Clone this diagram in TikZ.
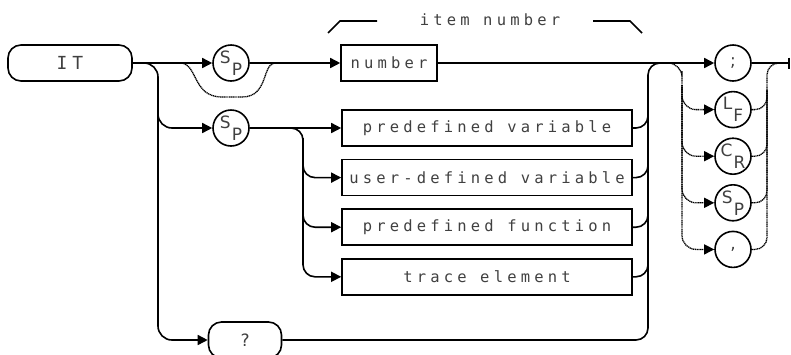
\documentclass[tikz,border=0pt]{standalone}
\usepackage{fontspec}
\newfontfamily\hpfont[LetterSpace=27]{DejaVu Sans Mono}
\newfontfamily\chrfont{DejaVu Sans}
\usetikzlibrary{arrows.meta, positioning}

% two small letters in one circle (S over P and so on)
\newcommand\twochr[2]{\raisebox{5pt}{#1}\kern1pt\raisebox{-7pt}{#2}}

\begin{document}
\begin{tikzpicture}[
        x=1pt, y=-1pt,
        node distance=12pt,
        % This defines the style of the rectangular boxes
        box/.style={rectangle, draw=black, line width=1.6pt, minimum width=290pt, minimum height=36pt, inner sep=0pt, font=\hpfont\fontsize{15.5}{15.5}\selectfont, text=black!75},
        % This defines the style of the rounded terminals
        term/.style={box, rounded corners=13pt},
        % This defines the style of the circled characters
        chr/.style={circle, draw=black, line width=1.6pt, minimum size=36pt, inner sep=0pt, font=\chrfont\fontsize{17}{17}\selectfont, text=black!75},
        % This defines the style of the arrows
        arrow/.style={-{Triangle[length=10pt, width=10pt]}, line width=1.6pt},
        % This defines the style of the optional (dotted) paths
        optline/.style={dash pattern=on 1.2pt off 0.6pt, line width=1.3pt},
        line/.style={line width=1.6pt}
    ]
    \useasboundingbox (0,0) rectangle (791,354);

    % --- THE NODES ---
    \node (it) [term, minimum width=124pt, font=\hpfont\fontsize{18}{18}\selectfont] at (70,63) {IT};
    \node (sp1) [chr] at (231,63) {\twochr{S}{P}};
    \node (num) [box, minimum width=96pt] at (389,63) {number};
    \node (lbl) [font=\hpfont\fontsize{15.5}{15.5}\selectfont, text=black!75] at (490,20) {item number};

    \node (sp2) [chr] at (231,128) {\twochr{S}{P}};
    \node (pvar) [box] at (487,128) {predefined variable};
    \node (uvar) [box, below=of pvar] {user-defined variable};
    \node (pfun) [box, below=of uvar] {predefined function};
    \node (trace) [box, below=of pfun] {trace element};
    \node (qm) [term, minimum width=73pt, font=\hpfont\fontsize{17}{17}\selectfont] at (245,340) {?};

    \node (semi) [chr] at (733,63) {;};
    \node (lf) [chr, below=9pt of semi] {\twochr{L}{F}};
    \node (cr) [chr, below=9pt of lf] {\twochr{C}{R}};
    \node (sp3) [chr, below=9pt of cr] {\twochr{S}{P}};
    \node (comma) [chr, below=9pt of sp3] {,};

    % --- THE JUNCTIONS ---
    \coordinate (by1) at (180,63);
    \coordinate (by2) at (274,63);
    \coordinate (br1) at (140,63);
    \coordinate (v1) at (158,100);
    \coordinate (br2) at (288,128);
    \coordinate (v2) at (303,150);
    \coordinate (v3) at (648,100);
    \coordinate (jn) at (665,63);
    \coordinate (tv) at (682,85);
    \coordinate (tr) at (767,90);
    \coordinate (rj) at (782,63);
    \coordinate (out) at (790,63);

    % --- THE MAIN LINE ---
    \draw [arrow] (it) -- (sp1);
    \draw [arrow] (sp1) -- (num);
    \draw [arrow] (num) -- (semi);
    \draw [line, -{Bar[width=11pt]}] (semi) -- (out);
    \draw [optline] (by1) .. controls (198,63) and (192,97) .. (222,97) -- (242,97) .. controls (268,97) and (262,66) .. (by2);

    % --- THE LOWER BRANCHES ---
    \draw [arrow, rounded corners=14pt] (br1) -| (v1) |- (qm);
    \draw [arrow, rounded corners=14pt] (v1) |- (sp2);
    \draw [arrow] (sp2) -- (pvar);
    \draw [arrow, rounded corners=12pt] (br2) -| (v2) |- (trace);
    \draw [arrow, rounded corners=12pt] (v2) |- (uvar);
    \draw [arrow, rounded corners=12pt] (v2) |- (pfun);

    % --- BACK TO THE MAIN LINE ---
    \draw [line, rounded corners=12pt] (qm) -| (v3) |- (jn);
    \draw [line, rounded corners=12pt] (pvar) -| (v3);
    \draw [line, rounded corners=12pt] (uvar) -| (v3);
    \draw [line, rounded corners=12pt] (pfun) -| (v3);
    \draw [line, rounded corners=12pt] (trace) -| (v3);

    % --- THE TERMINATORS ---
    \draw [arrow, optline, rounded corners=14pt] (jn) -| (tv) |- (comma);
    \draw [arrow, optline, rounded corners=14pt] (tv) |- (lf);
    \draw [arrow, optline, rounded corners=14pt] (tv) |- (cr);
    \draw [arrow, optline, rounded corners=14pt] (tv) |- (sp3);
    \draw [optline, rounded corners=12pt] (comma) -| (tr) |- (rj);
    \draw [optline, rounded corners=12pt] (lf) -| (tr);
    \draw [optline, rounded corners=12pt] (cr) -| (tr);
    \draw [optline, rounded corners=12pt] (sp3) -| (tr);

    % --- THE LABEL BRACKET ---
    \draw [line] (328,33) -- (340,21) -- (377,21);
    \draw [line] (593,21) -- (630,21) -- (642,33);
\end{tikzpicture}
\end{document}
